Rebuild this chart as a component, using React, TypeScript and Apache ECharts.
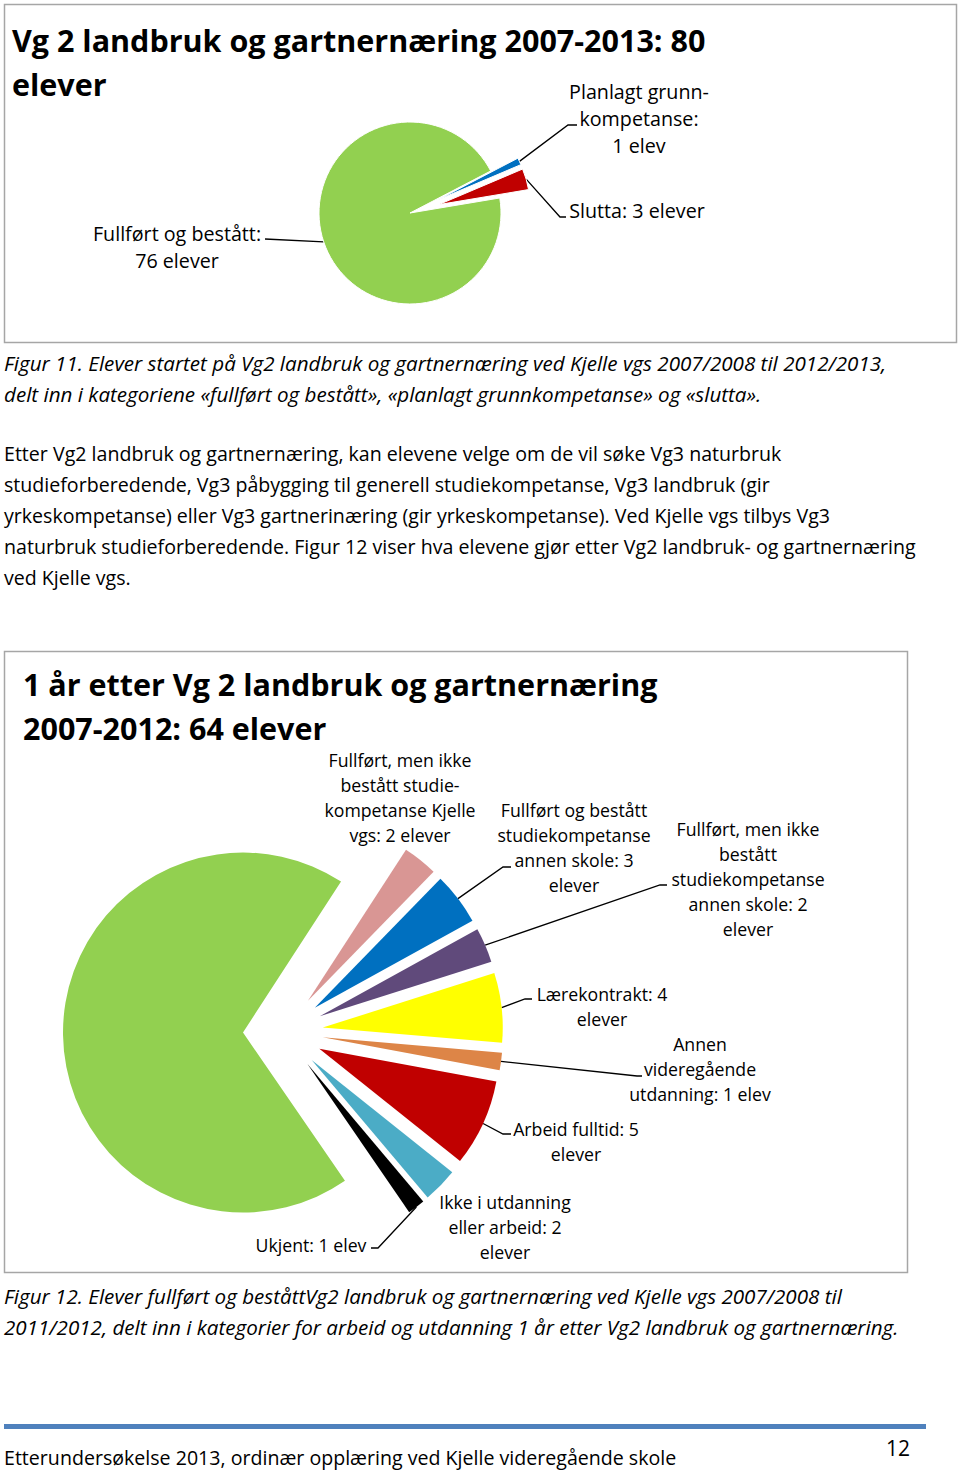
import React, { useEffect, useRef } from "react";
import * as echarts from "echarts";

const FONT = "'Open Sans', 'Noto Sans', sans-serif";

// ---- Figure 11 data ----
const pie1Names = ["Fullført og bestått", "Planlagt grunnkompetanse", "Slutta"];
const pie1Values = [76, 1, 3];
const pie1Labels = [
  ["Fullført og bestått:", "76 elever"],
  ["Planlagt grunn-", "kompetanse:", "1 elev"],
  ["Slutta: 3 elever"],
];
const pie1Exploded = [false, true, true];
const pie1Colors = ["#92d050", "#0070c0", "#c00000"];

// ---- Figure 12 data ----
const pie2Names = [
  "Fullført og bestått studiekompetanse Kjelle vgs",
  "Fullført, men ikke bestått studiekompetanse Kjelle vgs",
  "Fullført og bestått studiekompetanse annen skole",
  "Fullført, men ikke bestått studiekompetanse annen skole",
  "Lærekontrakt",
  "Annen videregående utdanning",
  "Arbeid fulltid",
  "Ikke i utdanning eller arbeid",
  "Ukjent",
];
const pie2Values = [44, 2, 3, 2, 4, 1, 5, 2, 1];
const pie2Labels = [
  ["Fullført og bestått", "studiekompetanse", "Kjelle vgs: 44 elever"],
  ["Fullført, men ikke", "bestått studie-", "kompetanse Kjelle", "vgs: 2 elever"],
  ["Fullført og bestått", "studiekompetanse", "annen skole: 3", "elever"],
  ["Fullført, men ikke", "bestått", "studiekompetanse", "annen skole: 2", "elever"],
  ["Lærekontrakt: 4", "elever"],
  ["Annen", "videregående", "utdanning: 1 elev"],
  ["Arbeid fulltid: 5", "elever"],
  ["Ikke i utdanning", "eller arbeid: 2", "elever"],
  ["Ukjent: 1 elev"],
];
const pie2Colors = ["#92d050", "#d99694", "#0070c0", "#604a7b", "#ffff00", "#dd8547", "#c00000", "#4bacc6", "#000000"];

// ---- page texts ----
const title1 = ["Vg 2 landbruk og gartnernæring 2007-2013: 80", "elever"];
const title2 = ["1 år etter Vg 2 landbruk og gartnernæring", "2007-2012: 64 elever"];
const caption1 = [
  "Figur 11. Elever startet på Vg2 landbruk og gartnernæring ved Kjelle vgs 2007/2008 til 2012/2013,",
  "delt inn i kategoriene «fullført og bestått», «planlagt grunnkompetanse» og «slutta».",
];
const bodyLines = [
  "Etter Vg2 landbruk og gartnernæring, kan elevene velge om de vil søke Vg3 naturbruk",
  "studieforberedende, Vg3 påbygging til generell studiekompetanse, Vg3 landbruk (gir",
  "yrkeskompetanse) eller Vg3 gartnerinæring (gir yrkeskompetanse). Ved Kjelle vgs tilbys Vg3",
  "naturbruk studieforberedende. Figur 12 viser hva elevene gjør etter Vg2 landbruk- og gartnernæring",
  "ved Kjelle vgs.",
];
const caption2 = [
  "Figur 12. Elever fullført og beståttVg2 landbruk og gartnernæring ved Kjelle vgs 2007/2008 til",
  "2011/2012, delt inn i kategorier for arbeid og utdanning 1 år etter Vg2 landbruk og gartnernæring.",
];
const footerText = "Etterundersøkelse 2013, ordinær opplæring ved Kjelle videregående skole";
const pageNumber = "12";

// ---- layout ----
const PIE1 = { cx: 410, cy: 213, r: 91, start: 9.5, offset: 30 };
const PIE2 = { cx: 283, cy: 1032, r: 180, start: -55.5, offset: 40 };
// label block: [centre x, first line y]
const pie1LabelPos: [number, number][] = [[177, 233], [639, 91], [637, 210]];
const pie1LabelDy = 27;
const pie2LabelPos: [number, number][] = [
  [151, 994], [400, 760], [574, 810], [748, 829], [602, 994], [700, 1044], [576, 1129], [505, 1202], [311, 1245],
];
const pie2LabelDy = 25;
// leader-line elbow points (label side), null = no leader line
const pie1Leaders: ([number, number][] | null)[] = [
  [[265, 239]],
  [[568, 125], [577, 125]],
  [[560, 217], [566, 217]],
];
const pie2Leaders: ([number, number][] | null)[] = [
  null,
  null,
  [[503, 867], [511, 867]],
  [[660, 885], [667, 885]],
  [[525, 999], [532, 999]],
  [[637, 1076], [642, 1076]],
  [[503, 1134], [511, 1134]],
  null,
  [[378, 1248], [371, 1248]],
];

// anchor on the outer arc of a (possibly exploded) slice, at its mid angle
function sliceAnchor(values: number[], i: number, geo: any, exploded: boolean) {
  const total = values.reduce((a, b) => a + b, 0);
  let cum = 0;
  for (let k = 0; k < i; k++) cum += values[k];
  const a0 = geo.start - (cum / total) * 360;
  const a1 = a0 - (values[i] / total) * 360;
  const mid = ((a0 + a1) / 2) * (Math.PI / 180);
  const rr = geo.r + (exploded ? geo.offset : 0);
  return [geo.cx + rr * Math.cos(mid), geo.cy - rr * Math.sin(mid)];
}

function textLines(lines: string[], x: number, y0: number, dy: number, font: any, align = "left") {
  return lines.map((t, i) => ({
    type: "text",
    silent: true,
    x,
    y: y0 + i * dy,
    style: { text: t, fill: "#000", align, verticalAlign: "middle", ...font },
  }));
}

export default function App() {
  const ref = useRef<HTMLDivElement>(null);
  useEffect(() => {
    document.body.style.margin = "0";
    const chart = echarts.init(ref.current!, null, { renderer: "svg" });
    const bodyFont = { fontFamily: FONT, fontSize: 19.6 };
    const italicFont = { fontFamily: FONT, fontSize: 20.6, fontStyle: "italic" };
    const titleFont = { fontFamily: FONT, fontSize: 30.5, fontWeight: "bold" };
    const lab1Font = { fontFamily: FONT, fontSize: 19.7 };
    const lab2Font = { fontFamily: FONT, fontSize: 17.7 };
    const lineStyle = { stroke: "#000", lineWidth: 1.3, fill: "none" };

    const leaders: any[] = [];
    pie1Leaders.forEach((pts, i) => {
      if (!pts) return;
      const a = sliceAnchor(pie1Values, i, PIE1, pie1Exploded[i]);
      leaders.push({ type: "polyline", silent: true, shape: { points: [a, ...pts] }, style: lineStyle });
    });
    pie2Leaders.forEach((pts, i) => {
      if (!pts) return;
      const a = sliceAnchor(pie2Values, i, PIE2, true);
      leaders.push({ type: "polyline", silent: true, shape: { points: [a, ...pts] }, style: lineStyle });
    });

    const labels: any[] = [];
    pie1Labels.forEach((ls, i) => {
      labels.push(...textLines(ls, pie1LabelPos[i][0], pie1LabelPos[i][1], pie1LabelDy, lab1Font, "center"));
    });
    pie2Labels.forEach((ls, i) => {
      labels.push(...textLines(ls, pie2LabelPos[i][0], pie2LabelPos[i][1], pie2LabelDy, lab2Font, "center"));
    });

    const graphic: any[] = [
      { type: "rect", silent: true, shape: { x: 4.5, y: 4.5, width: 952, height: 338 }, style: { fill: "none", stroke: "#a6a6a6", lineWidth: 1.5 } },
      { type: "rect", silent: true, shape: { x: 4.5, y: 651.5, width: 903, height: 621 }, style: { fill: "none", stroke: "#a6a6a6", lineWidth: 1.5 } },
      ...textLines(title1, 12, 40, 44, titleFont),
      ...textLines(title2, 23, 684, 44, titleFont),
      ...textLines(caption1, 4, 363, 31, italicFont),
      ...textLines(bodyLines, 4, 453, 31.2, bodyFont),
      ...textLines(caption2, 4, 1296, 31, italicFont),
      { type: "rect", silent: true, shape: { x: 4, y: 1424, width: 922, height: 5 }, style: { fill: "#4f81bd" } },
      ...textLines([footerText], 4, 1457, 0, { fontFamily: FONT, fontSize: 19.6 }),
      ...textLines([pageNumber], 910, 1448, 0, { fontFamily: FONT, fontSize: 21 }, "right"),
      ...leaders,
      ...labels,
    ];

    const option: any = {
      animation: false,
      backgroundColor: "#fff",
      graphic,
      series: [
        {
          type: "pie",
          silent: true,
          center: [PIE1.cx, PIE1.cy],
          radius: PIE1.r,
          startAngle: PIE1.start,
          clockwise: true,
          selectedMode: "multiple",
          selectedOffset: PIE1.offset,
          emphasis: { disabled: true },
          itemStyle: { borderColor: "#fff", borderWidth: 1 },
          label: { show: false },
          labelLine: { show: false },
          data: pie1Values.map((v, i) => ({
            name: pie1Names[i],
            value: v,
            selected: pie1Exploded[i],
            itemStyle: { color: pie1Colors[i] },
          })),
        },
        {
          type: "pie",
          silent: true,
          center: [PIE2.cx, PIE2.cy],
          radius: PIE2.r,
          startAngle: PIE2.start,
          clockwise: true,
          selectedMode: "multiple",
          selectedOffset: PIE2.offset,
          emphasis: { disabled: true },
          label: { show: false },
          labelLine: { show: false },
          data: pie2Values.map((v, i) => ({
            name: pie2Names[i],
            value: v,
            selected: true,
            itemStyle: { color: pie2Colors[i] },
          })),
        },
      ],
    };
    chart.setOption(option);
    return () => chart.dispose();
  }, []);
  return (
    <div
      ref={ref}
      style={{ position: "absolute", left: 0, top: 0, width: 960, height: 1470, background: "#fff" }}
    />
  );
}
